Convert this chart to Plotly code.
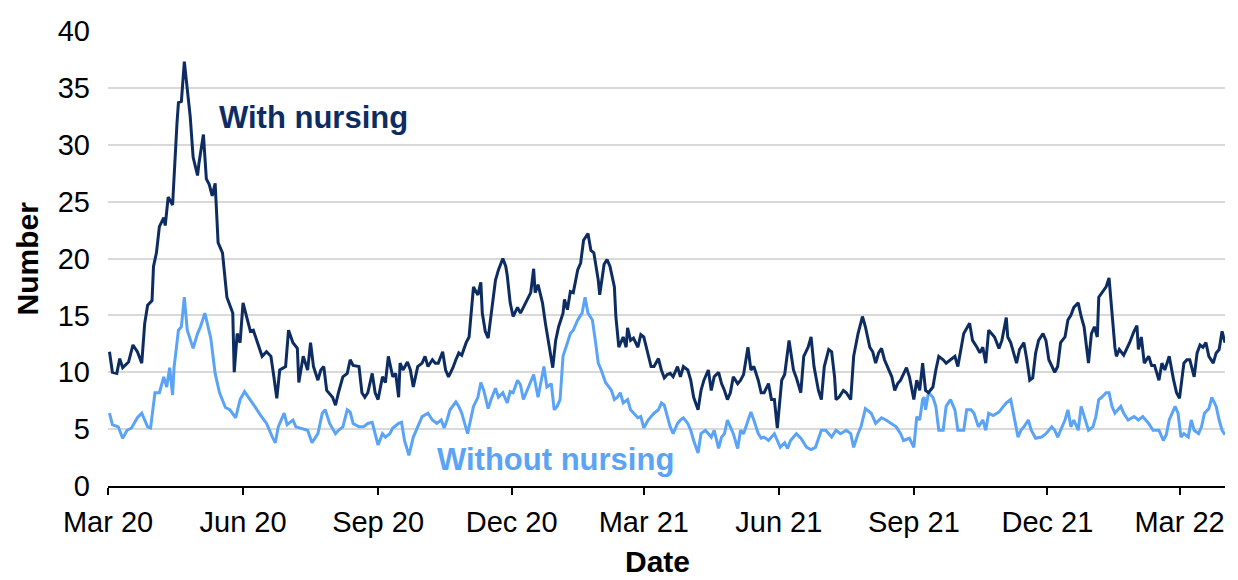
import pandas as pd
import plotly.graph_objects as go

START_DATE = "2020-03-01"

# Days since 1 March 2020 and daily numbers, "With nursing"
days_with = [1,3,6,8,10,14,17,20,23,25,
             27,30,31,33,35,38,39,41,44,45,
             47,48,50,52,54,56,58,61,62,65,
             67,69,71,73,75,78,81,85,86,88,
             90,92,95,97,99,102,105,108,111,113,
             115,117,121,123,126,129,130,133,136,138,
             140,143,145,147,149,153,155,157,160,163,
             165,167,171,173,175,177,180,182,184,187,
             189,191,194,196,198,199,201,204,206,208,
             211,214,216,218,221,223,225,228,230,232,
             235,237,239,241,244,246,248,249,252,254,
             255,257,259,262,264,266,269,271,272,274,
             276,279,281,283,286,288,290,291,293,296,
             298,300,303,305,307,310,311,313,315,317,
             320,322,324,327,329,331,334,335,337,338,
             340,342,345,346,348,351,353,354,356,358,
             361,363,365,368,370,372,375,377,379,381,
             383,385,388,390,392,395,397,399,402,404,
             406,409,411,413,416,418,420,422,424,426,
             429,431,433,436,438,440,443,445,447,450,
             452,454,456,459,461,464,467,469,472,474,
             477,479,481,484,486,488,491,493,495,496,
             498,501,503,506,508,511,512,514,516,519,
             521,523,525,527,529,531,534,536,538,540,
             544,546,549,551,553,555,557,559,562,564,
             566,569,571,574,577,579,581,583,587,589,
             592,594,596,598,600,602,604,607,609,612,
             613,615,619,621,624,626,628,630,632,634,
             637,639,641,645,647,649,652,654,656,658,
             661,663,665,668,670,672,674,675,678,680,
             682,684,686,687,689,692,694,696,699,701,
             702,704,706,709,711,713,716,718,720,723,
             726,728,730,733,735,737,740,742,744,746,
             748,750,753,755,757,759,761]
values_with = [11.8,10.0,9.9,11.2,10.4,10.9,12.4,11.8,10.8,14.3,
               15.9,16.3,19.3,20.5,22.8,23.6,22.9,25.4,24.7,27.5,
               31.9,33.7,33.8,37.3,34.8,32.5,28.9,27.3,28.4,30.9,
               27.0,26.5,25.5,26.6,21.4,20.5,16.6,15.2,10.0,13.4,
               12.6,16.1,14.6,13.6,13.7,12.6,11.4,11.8,11.4,9.6,
               7.7,10.2,10.5,13.7,12.6,12.1,9.1,11.4,10.2,12.6,
               10.5,9.3,10.2,10.5,8.4,7.8,7.1,8.2,9.6,9.9,
               11.1,10.6,10.5,8.2,7.8,8.2,9.9,8.2,7.6,9.6,
               9.1,11.4,9.6,9.9,7.8,10.8,10.2,10.9,10.2,8.7,
               10.5,10.8,11.4,10.5,11.1,10.8,10.8,11.8,10.2,9.6,
               10.4,11.1,11.7,11.5,12.6,13.1,16.6,17.5,16.8,17.9,
               15.2,13.6,13.0,16.4,18.1,19.0,20.0,19.3,18.5,16.1,
               14.9,15.7,15.2,15.7,16.4,17.0,19.1,17.0,17.7,16.1,
               14.3,12.8,10.4,12.8,14.0,15.2,16.4,15.5,17.1,17.0,
               19.0,19.6,21.6,22.2,20.7,20.5,18.1,16.8,18.7,19.5,
               19.9,19.3,17.5,14.9,12.2,13.1,12.2,13.9,12.8,13.0,
               12.2,13.3,13.1,11.4,10.5,10.5,11.2,10.2,9.5,9.8,
               9.9,9.6,10.5,9.6,10.5,10.2,9.3,7.8,6.7,8.4,
               9.3,10.2,8.4,9.6,10.0,9.0,8.4,7.6,8.2,9.6,
               9.0,9.3,9.8,12.2,10.2,10.5,9.3,8.2,8.2,9.0,
               7.6,7.6,5.1,9.3,9.8,12.8,10.2,9.5,8.2,11.4,
               12.2,13.1,10.5,8.4,7.6,10.5,12.0,11.8,9.6,7.6,
               7.8,8.4,8.2,7.6,11.4,13.4,14.0,14.9,14.0,12.2,
               11.8,10.8,11.7,12.1,11.1,10.5,9.6,8.4,9.0,9.3,
               10.4,9.6,7.6,9.3,8.4,10.8,8.4,8.2,8.7,10.2,
               11.4,11.1,10.8,11.1,11.4,10.5,11.8,13.4,14.3,12.8,
               12.2,11.7,12.2,10.8,13.7,13.4,13.1,12.1,12.8,14.8,
               13.1,12.6,10.8,12.0,12.6,11.1,9.3,9.5,11.7,12.8,
               13.4,12.8,11.1,10.0,10.5,12.6,13.1,14.6,15.0,15.7,
               16.1,14.9,14.0,10.8,13.4,14.0,13.1,16.6,17.2,17.5,
               18.3,14.9,12.2,11.4,12.0,11.5,12.0,12.6,13.6,14.1,
               12.0,13.1,10.8,11.4,10.6,10.6,9.3,10.8,10.2,11.4,
               9.3,8.2,7.7,10.8,11.1,11.1,9.6,11.7,12.4,12.2,
               12.6,11.4,10.8,11.7,12.0,13.6,12.6]

# Days since 1 March 2020 and daily numbers, "Without nursing"
days_without = [1,3,7,10,13,16,20,23,27,29,
                32,35,38,40,42,44,45,48,50,52,
                54,56,58,61,63,66,70,73,76,80,
                83,87,90,93,97,100,104,108,112,114,
                116,120,122,126,128,131,136,139,143,146,
                148,151,155,157,160,163,165,167,171,174,
                177,180,182,184,187,189,192,194,198,200,
                202,205,208,211,214,218,221,224,227,229,
                231,233,237,239,241,245,247,249,252,254,
                256,259,261,264,266,269,271,272,274,276,
                279,281,283,286,288,290,293,295,297,299,
                302,304,306,308,310,313,315,317,320,323,
                325,327,330,332,334,336,339,343,345,347,
                349,351,354,356,358,361,363,365,368,370,
                372,375,377,379,381,383,385,388,390,392,
                395,397,399,402,404,407,411,413,416,418,
                420,422,424,426,429,431,433,436,438,440,
                443,445,447,450,452,454,456,458,461,463,
                465,469,472,476,479,482,486,489,493,496,
                499,503,506,508,511,513,516,520,523,527,
                530,534,537,540,542,546,549,551,553,555,
                556,557,559,562,564,566,569,571,574,577,
                579,583,585,588,590,593,596,598,600,603,
                607,610,612,615,617,620,622,624,627,629,
                632,636,639,643,645,647,649,652,654,656,
                658,661,663,665,668,671,673,675,677,680,
                682,684,686,688,690,692,695,699,702,705,
                709,712,716,719,721,723,727,729,731,733,
                736,738,740,743,745,747,750,752,755,757,
                759,761]
values_without = [6.4,5.4,5.2,4.2,4.9,5.1,6.0,6.4,5.2,5.1,
                  8.2,8.2,9.6,8.7,10.4,8.0,10.4,13.7,14.0,16.6,
                  13.7,12.8,12.1,13.4,14.0,15.2,13.0,9.9,8.2,6.9,
                  6.7,6.0,7.6,8.3,7.6,7.0,6.2,5.5,4.3,3.8,
                  5.2,6.4,5.4,5.8,5.2,5.1,4.9,3.8,4.6,6.4,
                  6.7,5.5,4.6,4.9,5.2,6.7,6.5,5.5,5.2,5.2,
                  5.5,5.6,4.6,3.6,4.6,4.3,4.6,5.1,5.5,5.6,
                  4.0,2.7,4.3,5.2,6.1,6.4,5.8,5.5,5.8,5.1,
                  5.8,6.7,7.4,7.0,6.4,4.6,5.8,7.0,7.8,9.1,
                  8.4,6.8,7.6,8.6,7.8,8.2,7.6,7.3,8.3,8.2,
                  9.3,8.9,7.6,8.6,9.3,9.8,7.8,9.3,10.5,8.7,
                  9.0,6.7,7.0,7.6,11.4,12.6,13.4,13.7,14.6,15.2,
                  16.6,15.2,14.6,12.8,10.8,10.2,9.1,8.4,7.6,7.8,
                  8.2,7.3,7.6,6.7,6.4,6.0,6.1,5.1,5.8,6.1,
                  6.4,6.7,7.3,7.1,6.1,5.2,4.6,5.5,5.8,6.0,
                  5.5,4.9,4.0,2.9,4.6,4.9,4.3,4.9,3.3,4.3,
                  4.6,5.8,5.2,4.6,3.3,4.9,4.6,5.8,6.5,5.8,
                  4.6,4.2,4.3,4.0,4.3,4.6,4.0,3.4,3.8,3.3,
                  4.0,4.6,4.2,3.4,3.2,3.4,4.9,4.9,4.3,4.9,
                  4.6,4.9,4.6,3.4,4.6,5.2,6.8,6.4,5.5,6.0,
                  5.8,5.5,5.2,4.6,4.0,4.2,3.4,6.1,5.8,7.6,
                  7.8,6.7,8.2,7.8,7.0,4.9,4.9,7.0,7.6,6.7,
                  4.9,4.9,6.7,6.7,6.4,5.2,5.8,4.9,6.4,6.2,
                  6.5,7.0,7.3,7.6,6.4,4.3,4.9,5.2,5.8,4.9,
                  4.2,4.3,4.6,5.2,4.9,4.3,4.9,5.8,6.7,5.2,
                  5.8,4.9,7.0,6.1,4.9,5.2,6.1,7.6,7.8,8.2,
                  8.2,7.0,6.4,6.7,7.0,6.4,5.8,6.1,5.8,6.1,
                  5.5,4.9,4.9,4.0,4.5,5.8,7.0,6.4,4.3,4.6,
                  4.3,5.8,4.9,4.6,5.2,6.4,6.8,7.8,7.0,5.8,
                  4.9,4.5]

tick_dates = ["2020-03-01", "2020-06-01", "2020-09-01", "2020-12-01", "2021-03-01",
              "2021-06-01", "2021-09-01", "2021-12-01", "2022-03-01"]
tick_labels = ["Mar 20", "Jun 20", "Sep 20", "Dec 20", "Mar 21",
               "Jun 21", "Sep 21", "Dec 21", "Mar 22"]

assert len(days_with) == len(values_with)
assert len(days_without) == len(values_without)

start = pd.Timestamp(START_DATE)
dates_with = start + pd.to_timedelta(days_with, unit="D")
dates_without = start + pd.to_timedelta(days_without, unit="D")

DARK = "#0d2d62"
LIGHT = "#5aa3f6"
FONT = "Liberation Sans, Arial, sans-serif"

fig = go.Figure()
fig.add_trace(go.Scatter(x=dates_without, y=values_without, mode="lines",
                         name="Without nursing", line=dict(color=LIGHT, width=3.0)))
fig.add_trace(go.Scatter(x=dates_with, y=values_with, mode="lines",
                         name="With nursing", line=dict(color=DARK, width=3.0)))

# The page body adds an 8 px margin, so the figure is 8 px smaller than the window.
fig.update_layout(
    width=1230, height=572,
    margin=dict(l=100, r=13, t=23, b=94),
    paper_bgcolor="white", plot_bgcolor="white",
    showlegend=False,
    font=dict(family=FONT, color="#000000"),
    xaxis=dict(
        type="date",
        range=["2020-03-01", "2022-04-01"],
        tickvals=tick_dates, ticktext=tick_labels,
        tickfont=dict(size=29, color="#000000"),
        showgrid=False, zeroline=False,
        showline=True, linecolor="#000000", linewidth=1.5,
        ticks="outside", ticklen=7, tickwidth=1.5, tickcolor="#000000",
        ticklabelstandoff=2,
        automargin=False,
    ),
    yaxis=dict(
        range=[0, 40], dtick=5, tick0=0,
        tickfont=dict(size=29, color="#000000"),
        showgrid=True, gridcolor="#d9d9d9", gridwidth=1.5,
        zeroline=False, showline=False, ticks="",
        ticklabelstandoff=17,
        automargin=False,
    ),
    annotations=[
        dict(text="<b>Number</b>", xref="paper", yref="paper", x=0, y=0.5,
             xshift=-81, textangle=-90, showarrow=False,
             font=dict(size=30, color="#000000", family=FONT),
             xanchor="center", yanchor="middle"),
        dict(text="<b>Date</b>", xref="paper", yref="paper", x=0.5, y=0,
             xshift=-9, yshift=-75, showarrow=False,
             font=dict(size=30, color="#000000", family=FONT),
             xanchor="center", yanchor="middle"),
        dict(text="<b>With nursing</b>", x="2020-07-19", y=32.4, xref="x", yref="y",
             showarrow=False, font=dict(size=31, color=DARK, family=FONT),
             xanchor="center", yanchor="middle"),
        dict(text="<b>Without nursing</b>", x="2020-12-31", y=2.3, xref="x", yref="y",
             showarrow=False, font=dict(size=31, color=LIGHT, family=FONT),
             xanchor="center", yanchor="middle"),
    ],
)

fig.write_html("out.html")
